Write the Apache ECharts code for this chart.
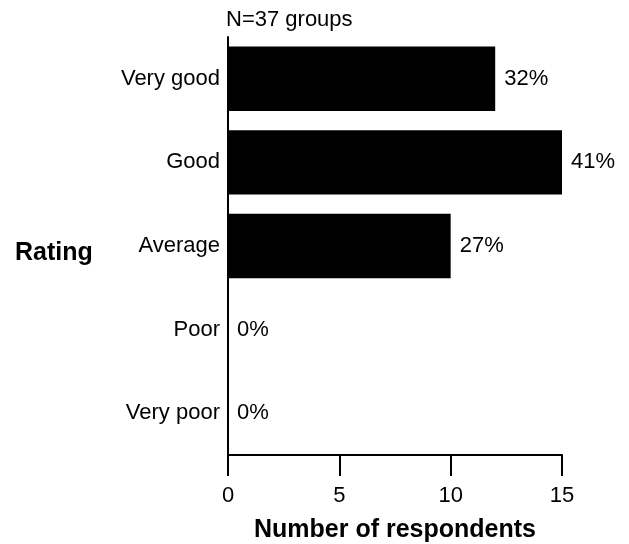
<!DOCTYPE html>
<html>
<head>
<meta charset="utf-8">
<script src="https://cdn.jsdelivr.net/npm/echarts@6/dist/echarts.min.js"></script>
<style>
  html, body { margin: 0; padding: 0; background: #fff; }
  #chart { width: 629px; height: 544px; }
</style>
</head>
<body>
<div id="chart"></div>
<script>
// rating categories, top to bottom
var ratings = ['Very good', 'Good', 'Average', 'Poor', 'Very poor']
var respondents = [12, 15, 10, 0, 0]
var percents = ['32%', '41%', '27%', '0%', '0%']
var xTicks = [0, 5, 10, 15]

var font = 'Liberation Sans, Arial, Helvetica, sans-serif'

var myChart = echarts.init(document.getElementById('chart'))
myChart.setOption({
    animation: false,
    textStyle: { fontFamily: font },
    title: {
        text: 'N=37 groups',
        left: 226,
        top: 9,
        padding: 0,
        textStyle: { fontSize: 22, fontWeight: 'normal', color: '#000', fontFamily: font }
    },
    grid: { left: 228, right: 67, top: 37, bottom: 89, containLabel: false, outerBoundsMode: 'none' },
    xAxis: {
        type: 'value',
        min: xTicks[0],
        max: xTicks[xTicks.length - 1],
        interval: 5,
        name: 'Number of respondents',
        nameLocation: 'middle',
        nameGap: 63,
        nameTextStyle: { fontSize: 25, fontWeight: 'bold', color: '#000', fontFamily: font },
        axisLine: { show: true, lineStyle: { color: '#000', width: 2 } },
        axisTick: { show: true, length: 21, lineStyle: { color: '#000', width: 2 } },
        axisLabel: { fontSize: 22, color: '#000', margin: 30, fontFamily: font },
        splitLine: { show: false }
    },
    yAxis: {
        type: 'category',
        data: ratings,
        inverse: true,
        axisLine: { show: true, lineStyle: { color: '#000', width: 2 } },
        axisTick: { show: false },
        axisLabel: { fontSize: 22, color: '#000', margin: 8, fontFamily: font },
        splitLine: { show: false }
    },
    graphic: [{
        type: 'text',
        left: 15,
        top: 241,
        style: { text: 'Rating', fontSize: 25, fontWeight: 'bold', fill: '#000', fontFamily: font }
    }],
    series: [{
        type: 'bar',
        data: respondents,
        barCategoryGap: '23%',
        itemStyle: { color: '#000' },
        label: {
            show: true,
            position: 'right',
            distance: 9,
            fontSize: 22,
            color: '#000',
            fontFamily: font,
            formatter: function (p) { return percents[p.dataIndex] }
        }
    }]
})
</script>
</body>
</html>
